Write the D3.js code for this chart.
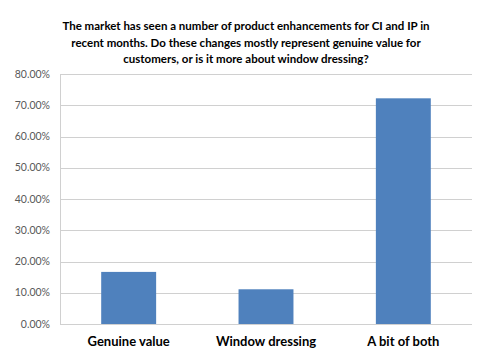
<!DOCTYPE html>
<html><head><meta charset="utf-8">
<script src="https://cdn.jsdelivr.net/npm/d3@7"></script>
<style>body{margin:0;background:#fff}</style>
</head><body>
<svg id="c" width="485" height="364"></svg>
<script>
const categories = ["Genuine value", "Window dressing", "A bit of both"];
const values = [0.1667, 0.1111, 0.7222];
const yTicks = [0, 0.1, 0.2, 0.3, 0.4, 0.5, 0.6, 0.7, 0.8];
const titleLines = [
  "The market has seen a number of product enhancements for CI and IP in",
  "recent months. Do these changes mostly represent genuine value for",
  "customers, or is it more about window dressing?"
];

const svg = d3.select("#c");
const m = {l: 60, r: 13, t: 74, b: 40};
const W = 485, H = 364;
const x = d3.scaleBand().domain(categories).range([m.l, W - m.r]).paddingInner(0.6).paddingOuter(0.3);
const y = d3.scaleLinear().domain([0, 0.8]).range([H - m.b, m.t]);
const font = "Lato, 'Open Sans', sans-serif";

svg.append("g").selectAll("line").data(yTicks).join("line")
  .attr("x1", m.l).attr("x2", W - m.r)
  .attr("y1", d => Math.round(y(d)) + 0.5).attr("y2", d => Math.round(y(d)) + 0.5)
  .attr("stroke", "#d0d0d0").attr("stroke-width", 1);
svg.append("line").attr("x1", m.l + 0.5).attr("x2", m.l + 0.5)
  .attr("y1", y(0.8)).attr("y2", y(0)).attr("stroke", "#d0d0d0");

svg.append("g").selectAll("text").data(yTicks).join("text")
  .attr("x", m.l - 10).attr("y", d => y(d)).attr("dy", "0.35em")
  .attr("text-anchor", "end").attr("font-family", font)
  .attr("font-size", 10.5).attr("fill", "#595959")
  .text(d => d3.format(".2%")(d));

svg.append("g").selectAll("rect").data(values).join("rect")
  .attr("x", (d, i) => x(categories[i])).attr("width", x.bandwidth())
  .attr("y", d => y(d)).attr("height", d => y(0) - y(d))
  .attr("fill", "#4f81bd");

svg.append("g").selectAll("text").data(categories).join("text")
  .attr("x", d => x(d) + x.bandwidth() / 2).attr("y", 346)
  .attr("text-anchor", "middle").attr("font-family", font)
  .attr("font-weight", "bold").attr("font-size", 13).attr("fill", "#000")
  .text(d => d);

svg.append("g").selectAll("text").data(titleLines).join("text")
  .attr("x", 246).attr("y", (d, i) => 30 + i * 16.5)
  .attr("text-anchor", "middle").attr("font-family", font)
  .attr("font-weight", "bold").attr("font-size", 11.5).attr("fill", "#000")
  .text(d => d);
</script>
</body></html>
